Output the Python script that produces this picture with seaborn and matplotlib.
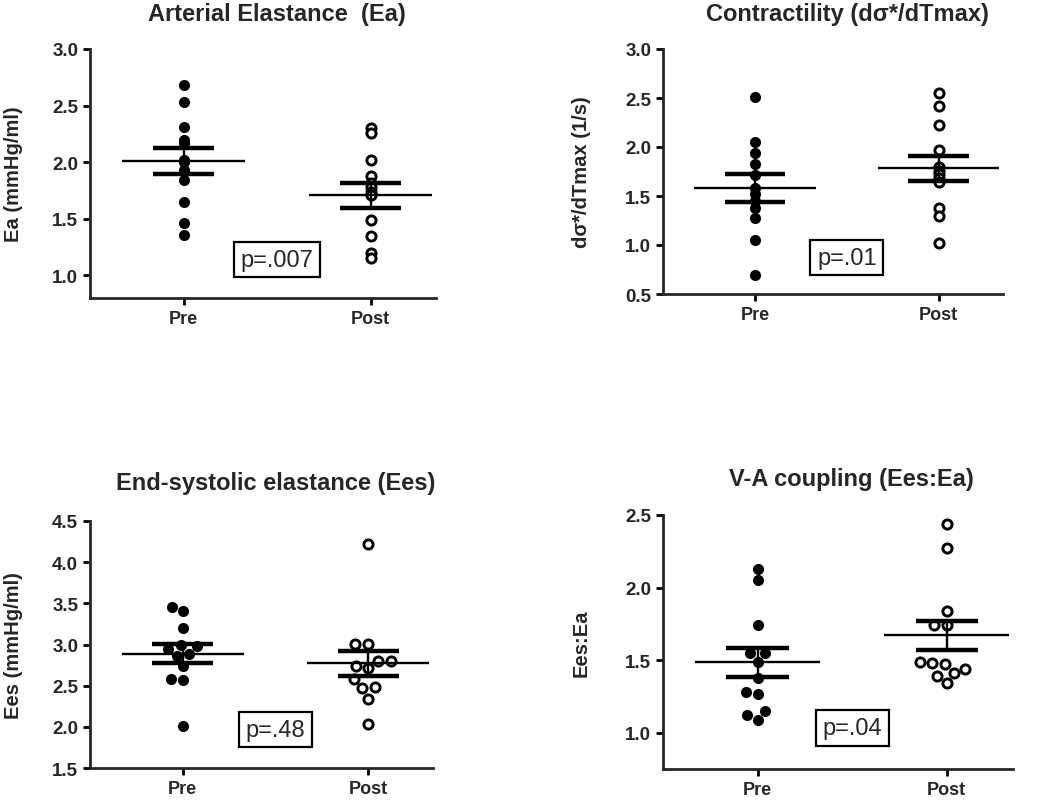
import numpy as np
import pandas as pd
import matplotlib
matplotlib.use("Agg")
import matplotlib.pyplot as plt
import seaborn as sns

groups = ["Pre", "Post"]

# Panel data
ea_pre = [2.68, 2.53, 2.31, 2.20, 2.17, 2.02, 2.00, 1.93, 1.84, 1.65, 1.46, 1.36]
ea_post = [2.30, 2.26, 2.02, 1.88, 1.82, 1.78, 1.74, 1.71, 1.49, 1.35, 1.20, 1.15]
con_pre = [2.51, 2.05, 1.94, 1.83, 1.71, 1.58, 1.52, 1.45, 1.38, 1.28, 1.05, 0.69]
con_post = [2.55, 2.42, 2.22, 1.97, 1.80, 1.76, 1.72, 1.68, 1.64, 1.38, 1.30, 1.02]
ees_pre = [3.45, 3.41, 3.20, 2.99, 2.98, 2.94, 2.89, 2.86, 2.74, 2.58, 2.57, 2.01]
ees_post = [4.22, 3.01, 3.01, 2.80, 2.80, 2.74, 2.71, 2.58, 2.48, 2.47, 2.34, 2.04]
va_pre = [2.13, 2.05, 1.74, 1.55, 1.55, 1.49, 1.38, 1.28, 1.27, 1.15, 1.12, 1.09]
va_post = [2.44, 2.27, 1.84, 1.74, 1.74, 1.49, 1.48, 1.47, 1.44, 1.41, 1.39, 1.34]

# Mean and SEM lines, order Pre, Post
ea_mean = [2.01, 1.706]
ea_sem = [0.118, 0.112]
con_mean = [1.582, 1.782]
con_sem = [0.14, 0.13]
ees_mean = [2.89, 2.77]
ees_sem = [0.117, 0.155]
va_mean = [1.486, 1.67]
va_sem = [0.10, 0.102]

titles = ["Arterial Elastance  (Ea)", "Contractility (d\u03c3*/dTmax)",
          "End-systolic elastance (Ees)", "V-A coupling (Ees:Ea)"]
ylabels = ["Ea (mmHg/ml)", "d\u03c3*/dTmax (1/s)", "Ees (mmHg/ml)", "Ees:Ea"]
pvals = ["p=.007", "p=.01", "p=.48", "p=.04"]
pval_y = [1.14, 0.87, 1.965, 1.033]
ylims = [(0.8, 3.0), (0.5, 3.0), (1.5, 4.5), (0.75, 2.5)]
yticks = [[1.0, 1.5, 2.0, 2.5, 3.0], [0.5, 1.0, 1.5, 2.0, 2.5, 3.0],
          [1.5, 2.0, 2.5, 3.0, 3.5, 4.0, 4.5], [1.0, 1.5, 2.0, 2.5]]

sns.set_style("ticks")
plt.rcParams["font.family"] = ["Liberation Sans", "DejaVu Sans"]

fig = plt.figure(figsize=(10.5, 8.03), dpi=100)
W, H = 1050, 803

def px_axes(left, top, right, bottom):
    return fig.add_axes([left / W, 1 - bottom / H, (right - left) / W, (bottom - top) / H])

axes = [
    px_axes(90, 50, 436, 299),
    px_axes(663, 50, 1003, 295),
    px_axes(90, 522, 433, 769),
    px_axes(663, 516, 1013, 770),
]
title_pos = [(277, 14), (847, 14), (276, 484), (851, 480)]
ylabel_x = [-0.195, -0.213, -0.196, -0.207]

panels = [
    (ea_pre, ea_post, ea_mean, ea_sem, False),
    (con_pre, con_post, con_mean, con_sem, False),
    (ees_pre, ees_post, ees_mean, ees_sem, True),
    (va_pre, va_post, va_mean, va_sem, True),
]

for i, (ax, (pre, post, mean, sem, swarm)) in enumerate(zip(axes, panels)):
    df = pd.DataFrame({
        "group": ["Pre"] * len(pre) + ["Post"] * len(post),
        "value": list(pre) + list(post),
    })
    dpre = df[df.group == "Pre"]
    dpost = df[df.group == "Post"]
    if swarm:
        sns.swarmplot(data=dpre, x="group", y="value", order=groups, ax=ax,
                      color="black", size=8, linewidth=0, zorder=3)
        sns.swarmplot(data=dpost, x="group", y="value", order=groups, ax=ax,
                      color="white", edgecolor="black", size=6.6, linewidth=2.1, zorder=3)
    else:
        sns.stripplot(data=dpre, x="group", y="value", order=groups, ax=ax,
                      jitter=False, color="black", size=8, linewidth=0, zorder=3)
        sns.stripplot(data=dpost, x="group", y="value", order=groups, ax=ax,
                      jitter=False, color="white", edgecolor="black", size=6.6,
                      linewidth=2.1, zorder=3)
    for j in range(2):
        m, s = mean[j], sem[j]
        ax.hlines(m, j - 0.33, j + 0.33, color="black", lw=1.7, zorder=5)
        ax.hlines([m - s, m + s], j - 0.165, j + 0.165, color="black", lw=3.2, zorder=5)
        ax.vlines(j, m - s, m + s, color="black", lw=1.7, zorder=5)

    ax.set_xlim(-0.5, 1.35)
    ax.set_ylim(*ylims[i])
    ax.set_yticks(yticks[i])
    ax.set_yticklabels([f"{t:.1f}" for t in yticks[i]])
    ax.set_xlabel("")
    ax.set_ylabel(ylabels[i], fontsize=14.5, fontweight="bold")
    ax.yaxis.set_label_coords(ylabel_x[i], 0.5)
    sns.despine(ax=ax)
    for sp in ["left", "bottom"]:
        ax.spines[sp].set_linewidth(2)
    ax.tick_params(axis="both", width=2, length=5, color="black")
    ax.tick_params(axis="y", labelsize=13.5)
    ax.tick_params(axis="x", labelsize=13)
    for lab in ax.get_xticklabels() + ax.get_yticklabels():
        lab.set_fontweight("bold")
    ax.text(0.5, pval_y[i], pvals[i], ha="center", va="center", fontsize=17,
            bbox=dict(boxstyle="square,pad=0.28", facecolor="white",
                      edgecolor="black", linewidth=1.6), zorder=6)
    tx, ty = title_pos[i]
    fig.text(tx / W, 1 - ty / H, titles[i], ha="center", va="center",
             fontsize=17, fontweight="bold")

fig.savefig("out.png", dpi=100)
